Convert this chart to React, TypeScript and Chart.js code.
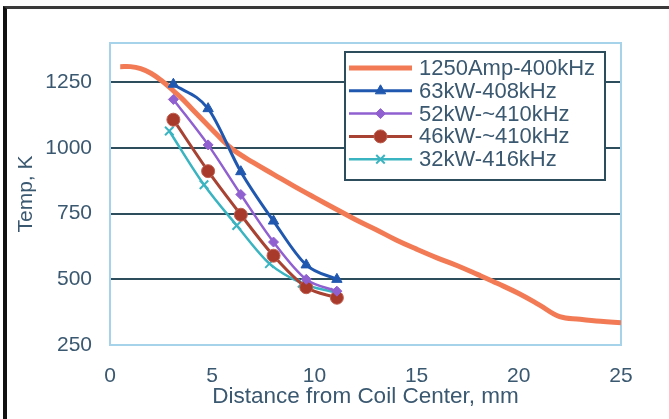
import React, { useEffect, useRef } from 'react';
import { Chart, registerables } from 'chart.js';
import { drawPoint } from 'chart.js/helpers';

Chart.register(...registerables);

// ---- data ----
const distOrange = [0.5, 1.0, 1.5, 2.0, 2.5, 3.0, 3.5, 4.0, 4.5, 5.0, 5.5, 6.0, 7.0, 8.0, 9.0, 10.0, 11.0, 12.0, 13.0, 14.0, 15.0, 16.0, 17.0, 18.0, 19.0, 20.0, 21.0, 22.0, 23.0, 24.0, 25.0];
const tempOrange = [1310, 1310, 1302, 1285, 1258, 1225, 1190, 1150, 1110, 1070, 1030, 995, 945, 900, 855, 812, 770, 728, 690, 650, 615, 582, 552, 518, 483, 446, 403, 358, 348, 340, 335];
const distKW = [3.1, 4.8, 6.4, 8.0, 9.6, 11.1];
const temp63 = [1243, 1150, 910, 722, 555, 500];
const temp52 = [1185, 1012, 823, 642, 500, 455];
const temp46 = [1108, 912, 746, 590, 470, 430];
const dist32 = [2.9, 4.6, 6.2, 7.8, 9.4, 11.0];
const temp32 = [1065, 860, 705, 560, 485, 450];
const seriesLabels = ['1250Amp-400kHz', '63kW-408kHz', '52kW-~410kHz', '46kW-~410kHz', '32kW-416kHz'];
const xTickValues = [0, 5, 10, 15, 20, 25];
const yTickValues = [250, 500, 750, 1000, 1250];

const toPoints = (xs: number[], ys: number[]) => xs.map((x, i) => ({ x, y: ys[i] }));

const TEXT = '#3a5870';
const GRID = '#2e4d5c';
const FONT = '"Liberation Sans", Arial, sans-serif';

const legendBox = { left: 345, top: 52, right: 605, bottom: 180, firstRow: 68, rowGap: 22.8, lineStart: 349, lineEnd: 412, textX: 419 };

const plotBorder = {
  id: 'plotBorder',
  beforeDatasetsDraw(chart: any) {
    const { ctx, chartArea: a } = chart;
    ctx.save();
    ctx.strokeStyle = '#a6d2ea';
    ctx.lineWidth = 2;
    ctx.strokeRect(a.left, a.top, a.right - a.left, a.bottom - a.top);
    ctx.restore();
  },
};

const boxLegend = {
  id: 'boxLegend',
  afterDatasetsDraw(chart: any) {
    const ctx = chart.ctx;
    const b = legendBox;
    ctx.save();
    ctx.fillStyle = '#ffffff';
    ctx.fillRect(b.left, b.top, b.right - b.left, b.bottom - b.top);
    ctx.strokeStyle = GRID;
    ctx.lineWidth = 2;
    ctx.strokeRect(b.left, b.top, b.right - b.left, b.bottom - b.top);
    chart.data.datasets.forEach((ds: any, i: number) => {
      const y = b.firstRow + i * b.rowGap;
      ctx.strokeStyle = ds.borderColor;
      ctx.lineWidth = ds.borderWidth;
      ctx.beginPath();
      ctx.moveTo(b.lineStart, y);
      ctx.lineTo(b.lineEnd, y);
      ctx.stroke();
      if (ds.pointRadius > 0) {
        ctx.fillStyle = ds.pointBackgroundColor;
        ctx.strokeStyle = ds.pointBorderColor;
        ctx.lineWidth = ds.pointBorderWidth;
        drawPoint(ctx, { pointStyle: ds.pointStyle, radius: ds.pointRadius, rotation: 0, borderWidth: ds.pointBorderWidth }, (b.lineStart + b.lineEnd) / 2, y);
      }
      ctx.fillStyle = TEXT;
      ctx.font = '22px ' + FONT;
      ctx.textBaseline = 'middle';
      ctx.textAlign = 'left';
      ctx.fillText(ds.label, b.textX, y + 1);
    });
    ctx.restore();
  },
};

export default function App() {
  const ref = useRef<HTMLCanvasElement>(null);

  useEffect(() => {
    document.body.style.margin = '0';
    const canvas = ref.current;
    if (!canvas) return;
    Chart.defaults.font.family = FONT;
    const chart = new Chart(canvas, {
      type: 'line',
      data: {
        datasets: [
          {
            label: seriesLabels[0],
            data: toPoints(distOrange, tempOrange),
            borderColor: '#f27a55',
            backgroundColor: '#f27a55',
            borderWidth: 5,
            pointRadius: 0,
            tension: 0.4,
            order: 10,
          },
          {
            label: seriesLabels[1],
            data: toPoints(distKW, temp63),
            borderColor: '#2058b0',
            backgroundColor: '#2058b0',
            borderWidth: 3,
            pointStyle: 'triangle',
            pointRadius: 6,
            pointBackgroundColor: '#2058b0',
            pointBorderColor: '#2058b0',
            pointBorderWidth: 1,
            cubicInterpolationMode: 'monotone',
            order: 1,
          },
          {
            label: seriesLabels[2],
            data: toPoints(distKW, temp52),
            borderColor: '#9060d0',
            backgroundColor: '#9060d0',
            borderWidth: 2.5,
            pointStyle: 'rectRot',
            pointRadius: 5,
            pointBackgroundColor: '#9060d0',
            pointBorderColor: '#9060d0',
            pointBorderWidth: 1,
            cubicInterpolationMode: 'monotone',
            order: 2,
          },
          {
            label: seriesLabels[3],
            data: toPoints(distKW, temp46),
            borderColor: '#a84232',
            backgroundColor: '#a84232',
            borderWidth: 3,
            pointStyle: 'circle',
            pointRadius: 6.5,
            pointBackgroundColor: '#a83a2c',
            pointBorderColor: '#c06050',
            pointBorderWidth: 1,
            cubicInterpolationMode: 'monotone',
            order: 3,
          },
          {
            label: seriesLabels[4],
            data: toPoints(dist32, temp32),
            borderColor: '#3ab4c0',
            backgroundColor: '#3ab4c0',
            borderWidth: 2.5,
            pointStyle: 'crossRot',
            pointRadius: 6,
            pointBackgroundColor: '#3ab4c0',
            pointBorderColor: '#3ab4c0',
            pointBorderWidth: 2,
            cubicInterpolationMode: 'monotone',
            order: 4,
          },
        ],
      },
      options: {
        animation: false,
        responsive: false,
        devicePixelRatio: 1,
        layout: { padding: { top: 43, right: 48, left: 0, bottom: 0 } },
        plugins: { legend: { display: false }, tooltip: { enabled: false } },
        scales: {
          x: {
            type: 'linear',
            min: 0,
            max: 25,
            afterBuildTicks: (s: any) => { s.ticks = xTickValues.map((v) => ({ value: v })); },
            afterFit: (s: any) => { s.height = 74; },
            grid: { display: false },
            border: { display: false },
            ticks: { color: TEXT, font: { size: 21 }, padding: 11, maxRotation: 0, callback: (v: any) => String(v) },
            title: { display: true, text: 'Distance from Coil Center, mm', color: TEXT, font: { size: 22.5 }, padding: { top: 0, bottom: 9 } },
          },
          y: {
            type: 'linear',
            min: 250,
            max: 1400,
            afterBuildTicks: (s: any) => { s.ticks = yTickValues.map((v) => ({ value: v })); },
            afterFit: (s: any) => { s.width = 110; },
            grid: {
              drawTicks: false,
              lineWidth: 2,
              color: (c: any) => (c.tick && c.tick.value === 250 ? 'rgba(0,0,0,0)' : GRID),
            },
            border: { display: false },
            ticks: { color: TEXT, font: { size: 21 }, padding: 18, callback: (v: any) => String(v) },
            title: { display: true, text: 'Temp, K', color: TEXT, font: { size: 21 }, padding: { top: 14, bottom: 0 } },
          },
        },
      },
      plugins: [plotBorder, boxLegend],
    } as any);
    return () => chart.destroy();
  }, []);

  return (
    <div style={{ position: 'relative', width: 669, height: 419, background: '#ffffff', overflow: 'hidden' }}>
      <canvas ref={ref} width={669} height={419} style={{ position: 'absolute', left: 0, top: 0 }} />
      <div
        style={{
          position: 'absolute',
          left: 3,
          top: 6,
          width: 666,
          height: 413,
          boxSizing: 'border-box',
          borderTop: '3px solid #3a3a3a',
          borderLeft: '4px solid #111111',
          pointerEvents: 'none',
        }}
      />
    </div>
  );
}
